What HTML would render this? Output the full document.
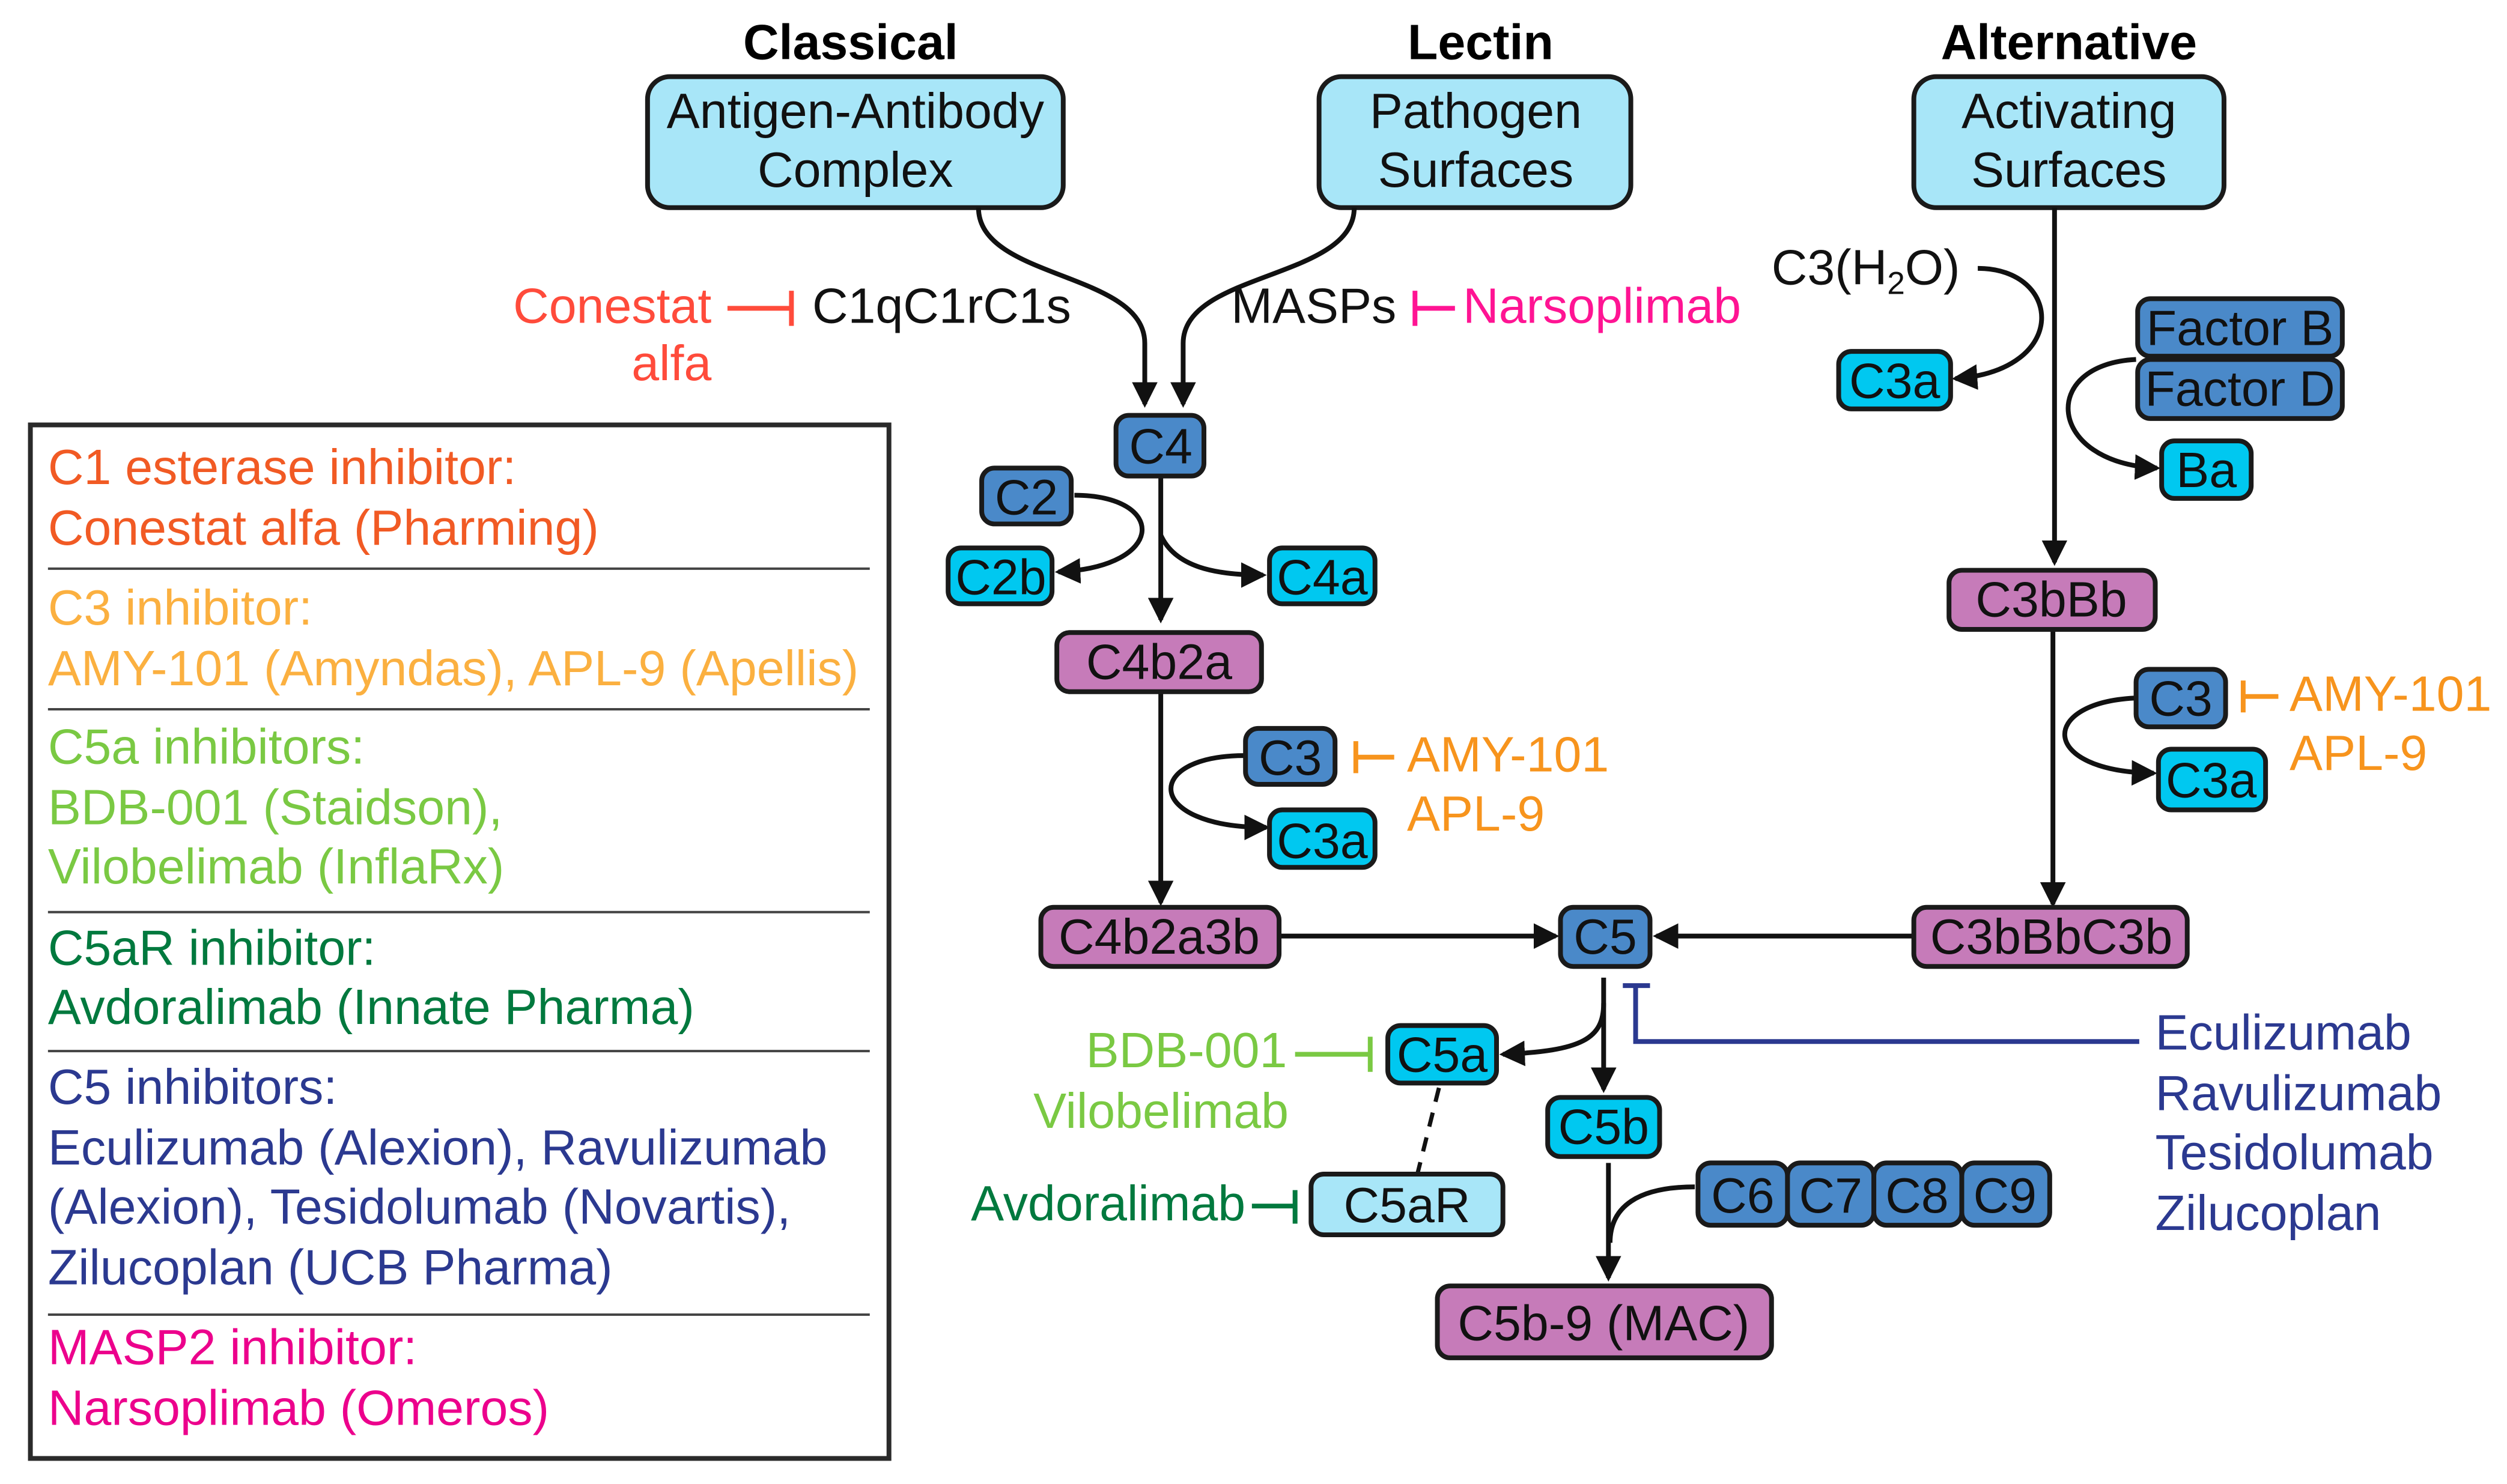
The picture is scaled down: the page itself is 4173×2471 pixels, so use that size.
<!DOCTYPE html>
<html><head><meta charset="utf-8"><style>
html,body{margin:0;padding:0;background:#fff;}
svg{display:block;}
text{font-family:"Liberation Sans",Arial,sans-serif;font-size:31px;}
.b{stroke:#1a1a1a;stroke-width:3;}
.l{fill:none;stroke:#111;stroke-width:3;}
</style></head><body>
<svg width="4173" height="2471" viewBox="0 0 1568 929" preserveAspectRatio="none" xmlns="http://www.w3.org/2000/svg">
<defs>
<marker id="a" markerWidth="16" markerHeight="16" refX="12" refY="7" orient="auto" markerUnits="userSpaceOnUse" viewBox="0 0 14 14"><path d="M0,0 L14,7 L0,14 z" fill="#111"/></marker>
</defs>
<rect width="1568" height="929" fill="#fff"/>
<g font-weight="bold" text-anchor="middle" style="font-size:29px">
<text x="532" y="37">Classical</text>
<text x="926" y="37">Lectin</text>
<text x="1294" y="37">Alternative</text>
</g>
<g class="b" fill="#a8e6f8">
<rect x="405" y="48" width="260" height="82" rx="14"/>
<rect x="825" y="48" width="195" height="82" rx="14"/>
<rect x="1197" y="48" width="194" height="82" rx="14"/>
</g>
<g text-anchor="middle" fill="#111">
<text x="535" y="80">Antigen-Antibody</text><text x="535" y="117">Complex</text>
<text x="923" y="80">Pathogen</text><text x="923" y="117">Surfaces</text>
<text x="1294" y="80">Activating</text><text x="1294" y="117">Surfaces</text>
</g>
<path class="l" d="M612,130 C612,175 716,170 716,215 L716,253" marker-end="url(#a)"/>
<path class="l" d="M847,130 C847,175 740,170 740,215 L740,253" marker-end="url(#a)"/>
<text x="508" y="202" fill="#111">C1qC1rC1s</text>
<text x="445" y="202" fill="#ff4b3b" text-anchor="end">Conestat</text>
<text x="420" y="238" fill="#ff4b3b" text-anchor="middle">alfa</text>
<path d="M455,193 H495 M495,182 V204" stroke="#ff4b3b" stroke-width="3"/>
<text x="770" y="202" fill="#111">MASPs</text>
<path d="M885,182 V204 M885,193 H910" stroke="#ff1493" stroke-width="3"/>
<text x="915" y="202" fill="#ff1493">Narsoplimab</text>
<path class="l" d="M726,298 V388" marker-end="url(#a)"/>
<path class="l" d="M672,310 C730,310 730,355 662,358" marker-end="url(#a)"/>
<path class="l" d="M726,335 C735,355 760,360 790,360" marker-end="url(#a)"/>
<path class="l" d="M726,433 V565" marker-end="url(#a)"/>
<path class="l" d="M778,473 C715,473 715,518 792,518" marker-end="url(#a)"/>
<path d="M848,464 V484 M848,474 H872" stroke="#f7941d" stroke-width="3"/>
<text x="880" y="483" fill="#f7941d">AMY-101</text>
<text x="880" y="520" fill="#f7941d">APL-9</text>
<path class="l" d="M800,586 H973" marker-end="url(#a)"/>
<path class="l" d="M1197,586 H1036" marker-end="url(#a)"/>
<path class="l" d="M1285,130 V352" marker-end="url(#a)"/>
<text x="1108" y="178" fill="#111">C3(H<tspan style="font-size:20px" dy="6">2</tspan><tspan dy="-6">O)</tspan></text>
<path class="l" d="M1237,168 C1290,168 1295,232 1223,237" marker-end="url(#a)"/>
<path class="l" d="M1336,225 C1275,228 1280,290 1349,293" marker-end="url(#a)"/>
<path class="l" d="M1284,394 V566" marker-end="url(#a)"/>
<path class="l" d="M1335,437 C1275,440 1275,483 1347,484" marker-end="url(#a)"/>
<path d="M1403,426 V446 M1403,436 H1425" stroke="#f7941d" stroke-width="3"/>
<text x="1432" y="445" fill="#f7941d">AMY-101</text>
<text x="1432" y="482" fill="#f7941d">APL-9</text>
<path class="l" d="M1003,612 V682" marker-end="url(#a)"/>
<path class="l" d="M1003,628 C1003,650 990,658 940,660" marker-end="url(#a)"/>
<path d="M1015,617 H1032 M1023,617 V652 H1338" fill="none" stroke="#2b3990" stroke-width="3"/>
<g fill="#2b3990"><text x="1348" y="657">Eculizumab</text><text x="1348" y="695">Ravulizumab</text><text x="1348" y="732">Tesidolumab</text><text x="1348" y="770">Zilucoplan</text></g>
<path d="M810,660 H857 M857,649 V671" stroke="#7ac943" stroke-width="3"/>
<text x="805" y="668" fill="#7ac943" text-anchor="end">BDB-001</text>
<text x="806" y="706" fill="#7ac943" text-anchor="end">Vilobelimab</text>
<path d="M900,681 L886,737" stroke="#111" stroke-width="2.6" stroke-dasharray="9,7"/>
<path d="M783,755 H810 M810,745 V766" stroke="#00793e" stroke-width="3"/>
<text x="779" y="764" fill="#00793e" text-anchor="end">Avdoralimab</text>
<path class="l" d="M1006,728 V800" marker-end="url(#a)"/>
<path class="l" d="M1060,743 C1025,743 1007,755 1007,778"/>
<g class="b">
<rect x="698" y="260" width="55" height="38" rx="8" fill="#4a89c9"/>
<rect x="614" y="293" width="56" height="35" rx="8" fill="#4a89c9"/>
<rect x="593" y="343" width="65" height="35" rx="8" fill="#00c8f0"/>
<rect x="794" y="343" width="66" height="35" rx="8" fill="#00c8f0"/>
<rect x="661" y="396" width="128" height="37" rx="8" fill="#c67bb9"/>
<rect x="779" y="456" width="56" height="35" rx="8" fill="#4a89c9"/>
<rect x="794" y="507" width="66" height="36" rx="8" fill="#00c8f0"/>
<rect x="651" y="568" width="149" height="37" rx="8" fill="#c67bb9"/>
<rect x="976" y="568" width="56" height="37" rx="8" fill="#4a89c9"/>
<rect x="1197" y="568" width="171" height="37" rx="8" fill="#c67bb9"/>
<rect x="1150" y="220" width="70" height="36" rx="8" fill="#00c8f0"/>
<rect x="1337" y="187" width="128" height="36" rx="8" fill="#4a89c9"/>
<rect x="1337" y="225" width="128" height="37" rx="8" fill="#4a89c9"/>
<rect x="1352" y="276" width="56" height="36" rx="8" fill="#00c8f0"/>
<rect x="1219" y="357" width="129" height="37" rx="8" fill="#c67bb9"/>
<rect x="1336" y="419" width="56" height="36" rx="8" fill="#4a89c9"/>
<rect x="1350" y="469" width="67" height="38" rx="8" fill="#00c8f0"/>
<rect x="868" y="642" width="68" height="36" rx="8" fill="#00c8f0"/>
<rect x="968" y="687" width="70" height="37" rx="8" fill="#00c8f0"/>
<rect x="820" y="735" width="120" height="38" rx="8" fill="#a8e6f8"/>
<rect x="1062" y="728" width="56" height="39" rx="8" fill="#4a89c9"/>
<rect x="1118" y="728" width="54" height="39" rx="8" fill="#4a89c9"/>
<rect x="1172" y="728" width="55" height="39" rx="8" fill="#4a89c9"/>
<rect x="1227" y="728" width="55" height="39" rx="8" fill="#4a89c9"/>
<rect x="899" y="805" width="209" height="45" rx="8" fill="#c67bb9"/>
</g>
<g text-anchor="middle" fill="#111">
<text x="726" y="290">C4</text>
<text x="642" y="322">C2</text>
<text x="626" y="372">C2b</text>
<text x="827" y="372">C4a</text>
<text x="725" y="425">C4b2a</text>
<text x="807" y="485">C3</text>
<text x="827" y="537">C3a</text>
<text x="725" y="597">C4b2a3b</text>
<text x="1004" y="597">C5</text>
<text x="1283" y="597">C3bBbC3b</text>
<text x="1185" y="249">C3a</text>
<text x="1401" y="216">Factor B</text>
<text x="1401" y="254">Factor D</text>
<text x="1380" y="305">Ba</text>
<text x="1283" y="386">C3bBb</text>
<text x="1364" y="448">C3</text>
<text x="1383" y="499">C3a</text>
<text x="902" y="671">C5a</text>
<text x="1003" y="716">C5b</text>
<text x="880" y="765">C5aR</text>
<text x="1090" y="759">C6</text>
<text x="1145" y="759">C7</text>
<text x="1199" y="759">C8</text>
<text x="1254" y="759">C9</text>
<text x="1003" y="839">C5b-9 (MAC)</text>
</g>
<rect x="19" y="266" width="537" height="647" fill="none" stroke="#2a2a2a" stroke-width="3"/>
<g stroke="#444" stroke-width="1.5">
<line x1="30" y1="356" x2="544" y2="356"/>
<line x1="30" y1="444" x2="544" y2="444"/>
<line x1="30" y1="571" x2="544" y2="571"/>
<line x1="30" y1="658" x2="544" y2="658"/>
<line x1="30" y1="823" x2="544" y2="823"/>
</g>
<g style="font-size:32px">
<text x="30" y="303" fill="#f15a24">C1 esterase inhibitor:</text>
<text x="30" y="341" fill="#f15a24">Conestat alfa (Pharming)</text>
<text x="30" y="391" fill="#fbb040">C3 inhibitor:</text>
<text x="30" y="429" fill="#fbb040">AMY-101 (Amyndas), APL-9 (Apellis)</text>
<text x="30" y="478" fill="#7ac943">C5a inhibitors:</text>
<text x="30" y="516" fill="#7ac943">BDB-001 (Staidson),</text>
<text x="30" y="553" fill="#7ac943">Vilobelimab (InflaRx)</text>
<text x="30" y="604" fill="#00793e">C5aR inhibitor:</text>
<text x="30" y="641" fill="#00793e">Avdoralimab (Innate Pharma)</text>
<text x="30" y="691" fill="#2b3990">C5 inhibitors:</text>
<text x="30" y="729" fill="#2b3990">Eculizumab (Alexion), Ravulizumab</text>
<text x="30" y="766" fill="#2b3990">(Alexion), Tesidolumab (Novartis),</text>
<text x="30" y="804" fill="#2b3990">Zilucoplan (UCB Pharma)</text>
<text x="30" y="854" fill="#ec008c">MASP2 inhibitor:</text>
<text x="30" y="892" fill="#ec008c">Narsoplimab (Omeros)</text>
</g>
</svg>
</body></html>
